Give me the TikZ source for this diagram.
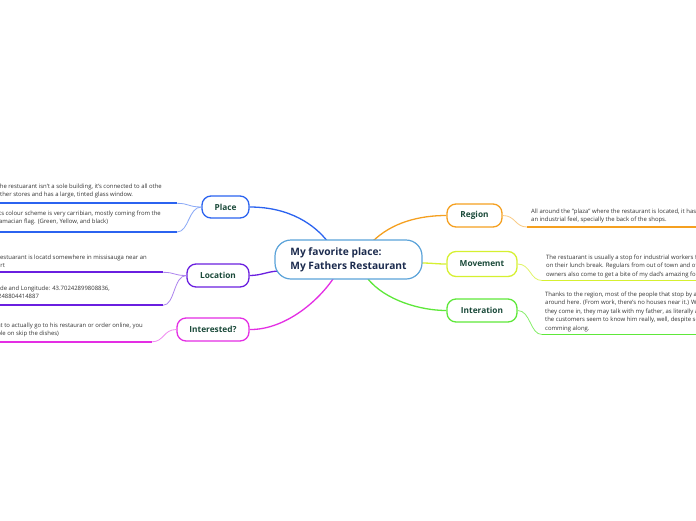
\documentclass[tikz,border=0pt]{standalone}
\usepackage{fontspec}
\setmainfont{Open Sans}
\definecolor{cmain}{HTML}{5BA3D9}
\definecolor{cplace}{HTML}{2B63F0}
\definecolor{cloc}{HTML}{6A1FE0}
\definecolor{cint}{HTML}{E42EE4}
\definecolor{creg}{HTML}{F5A020}
\definecolor{cmov}{HTML}{D6F030}
\definecolor{citer}{HTML}{5EE83A}
\definecolor{labtext}{HTML}{1B4A3A}
\definecolor{maintext}{HTML}{1C2B4E}
\definecolor{leaftext}{HTML}{333333}
\tikzset{
  topic/.style={draw, line width=1.3pt, fill=white, rounded corners=9pt, inner sep=0pt,
    font=\fontsize{8.3}{10}\selectfont\bfseries, text=labtext},
  centre/.style={draw=cmain, line width=1.2pt, fill=white, rounded corners=16pt, inner sep=0pt,
    minimum width=147pt, minimum height=39pt, align=left,
    font=\fontsize{10.2}{14}\selectfont\bfseries, text=maintext},
  leaf/.style={inner sep=0pt, align=left, font=\fontsize{5.95}{8.6}\selectfont, text=leaftext},
  branch/.style={line width=1.3pt},
  twig/.style={line width=0.8pt},
  under/.style={line width=1.8pt}
}
\begin{document}
\begin{tikzpicture}[x=1pt,y=-1pt]
\useasboundingbox (0,0) rectangle (696,520);
\clip (0,0) rectangle (696,520);
\fill[white] (0,0) rectangle (696,520);

% branches from centre
\coordinate (cPl) at (328,242);
\coordinate (cLo) at (280,271);
\coordinate (cIn) at (333,279);
\coordinate (cRe) at (372,242);
\coordinate (cMo) at (421,263);
\coordinate (cIt) at (368,279);

\node[topic, draw=cplace, minimum width=47pt, minimum height=22pt] (place) at (225.5,207) {Place};
\node[topic, draw=cloc, minimum width=62pt, minimum height=23pt] (loc) at (218,275.5) {Location};
\node[topic, draw=cint, minimum width=72pt, minimum height=23pt] (int) at (213,329.5) {Interested?};
\node[topic, draw=creg, minimum width=55pt, minimum height=23pt] (reg) at (474.5,215.5) {Region};
\node[topic, draw=cmov, minimum width=70pt, minimum height=25pt] (mov) at (482,264) {Movement};
\node[topic, draw=citer, minimum width=70pt, minimum height=23pt] (iter) at (482,310.5) {Interation};

\draw[branch, cplace] (place.east) .. controls (290,207) and (315,225) .. (cPl);
\draw[branch, cloc] (loc.east) .. controls (262,275.5) and (268,271) .. (cLo);
\draw[branch, cint] (int.east) .. controls (282,330) and (315,305) .. (cIn);
\draw[branch, creg] (cRe) .. controls (392,222) and (420,215.5) .. (reg.west);
\draw[branch, cmov] (cMo) .. controls (432,263) and (436,264) .. (mov.west);
\draw[branch, citer] (cIt) .. controls (385,300) and (420,310.5) .. (iter.west);

\node[centre] (main) at (348.5,259.5) {My favorite place:\\My Fathers Restaurant};

% leaf connectors: left
\coordinate (pa1) at (177,203.3);  \coordinate (pb1) at (-5,203.3);
\coordinate (pa2) at (177,232);    \coordinate (pb2) at (-5,232);
\coordinate (la1) at (163,272.3);  \coordinate (lb1) at (-5,272.3);
\coordinate (la2) at (163,305.3);  \coordinate (lb2) at (-5,305.3);
\coordinate (ia1) at (152,341.8);  \coordinate (ib1) at (-5,341.8);
% right
\coordinate (ra1) at (527,227);    \coordinate (rb1) at (701,227);
\coordinate (ma1) at (542,280.5);  \coordinate (mb1) at (701,280.5);
\coordinate (ta1) at (542,334.5);  \coordinate (tb1) at (701,334.5);

\draw[twig, cplace!55] (place.west) .. controls +(-13,0) and +(12,0) .. (pa1);
\draw[under, cplace] (pa1) -- (pb1);
\draw[twig, cplace!55] (place.west) .. controls +(-13,0) and +(12,0) .. (pa2);
\draw[under, cplace] (pa2) -- (pb2);
\draw[twig, cloc!55] (loc.west) .. controls +(-13,0) and +(12,0) .. (la1);
\draw[under, cloc] (la1) -- (lb1);
\draw[twig, cloc!55] (loc.west) .. controls +(-13,0) and +(12,0) .. (la2);
\draw[under, cloc] (la2) -- (lb2);
\draw[twig, cint!55] (int.west) .. controls +(-13,0) and +(12,0) .. (ia1);
\draw[under, cint] (ia1) -- (ib1);
\draw[twig, creg!55] (reg.east) .. controls +(13,0) and +(-12,0) .. (ra1);
\draw[under, creg] (ra1) -- (rb1);
\draw[twig, cmov!75] (mov.east) .. controls +(13,0) and +(-12,0) .. (ma1);
\draw[under, cmov] (ma1) -- (mb1);
\draw[twig, citer!75] (iter.east) .. controls +(13,0) and +(-12,0) .. (ta1);
\draw[under, citer] (ta1) -- (tb1);

% leaf texts
\node[leaf, anchor=north east] (tpl1) at (162,183.3) {The restuarant isn't a sole building, it's connected to all othe\\other stores and has a large, tinted glass window.};
\node[leaf, anchor=north east] (tpl2) at (161,210.3) {Its colour scheme is very carribian, mostly coming from the\\Jamacian flag. (Green, Yellow, and black)};
\node[leaf, anchor=north east] (tlo1) at (147,254.3) {The restuarant is locatd somewhere in missisauga near an\\airport};
\node[leaf, anchor=north east] (tlo2) at (110,285.3) {Latitude and Longitude: 43.70242899808836,\\-79.6248804414887};
\node[leaf, anchor=north east] (tin1) at (143,322.3) {(If you want to actually go to his restauran or order online, you\\it is available on skip the dishes)};
\node[leaf, anchor=north west] (tre1) at (531,208.3) {All around the "plaza" where the restaurant is located, it has\\an industrial feel, specially the back of the shops.};
\node[leaf, anchor=north west] (tmo1) at (546,254.3) {The restuarant is usually a stop for industrial workers from\\on their lunch break. Regulars from out of town and other\\owners also come to get a bite of my dad's amazing food.};
\node[leaf, anchor=north west] (tit1) at (545,291.3) {Thanks to the region, most of the people that stop by are\\around here. (From work, there's no houses near it.) When\\they come in, they may talk with my father, as literally all\\the customers seem to know him really, well, despite some\\comming along.};
\end{tikzpicture}
\end{document}
